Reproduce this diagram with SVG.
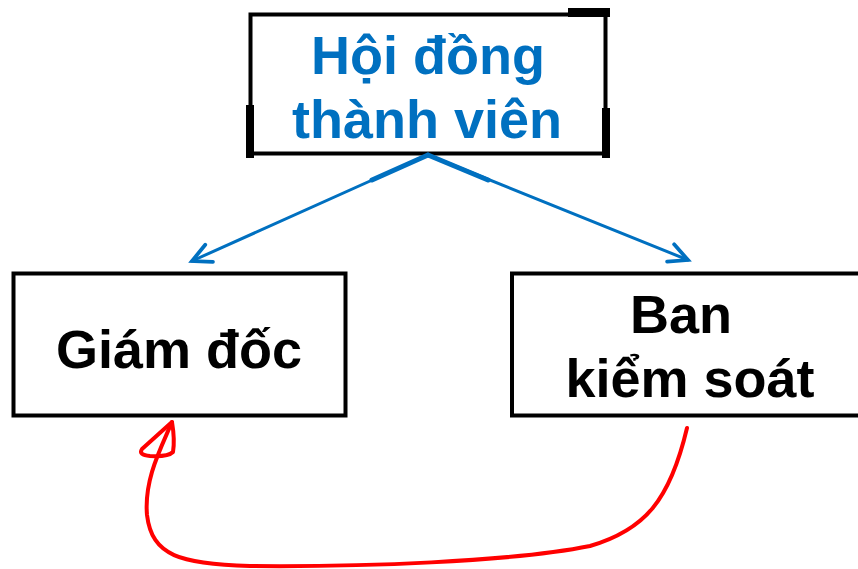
<svg xmlns="http://www.w3.org/2000/svg" width="858" height="569" viewBox="0 0 858 569">
  <style>
    .box { fill: #ffffff; stroke: #000000; stroke-width: 4; }
    .lbl { font-family: "Liberation Sans", Arial, sans-serif; font-weight: bold; font-size: 54px; text-anchor: middle; fill: #000000; }
    .blue { fill: #0070C0; }
    .link { fill: none; stroke: #0070C0; stroke-width: 3; stroke-linecap: round; }
    .link-thick { fill: none; stroke: #0070C0; stroke-width: 5; stroke-linecap: round; }
    .ref { fill: none; stroke: #ff0000; stroke-width: 4; stroke-linecap: round; stroke-linejoin: round; }
  </style>
  <defs>
    <marker id="open-arrow" markerUnits="userSpaceOnUse" markerWidth="30" markerHeight="30" refX="0" refY="0" viewBox="-20 -12 24 24" orient="auto">
      <path d="M-15,-7.5 L0,0 L-15,7.5" fill="none" stroke="#0070C0" stroke-width="3" stroke-linecap="round" stroke-linejoin="miter"/>
    </marker>
  </defs>
  <rect width="858" height="569" fill="#ffffff"/>

  <!-- board of members -->
  <g id="hoi-dong">
    <rect class="box" x="250.5" y="14.5" width="355" height="139" stroke-width="5"/>
    <rect x="568" y="8" width="42" height="9" fill="#000000"/>
    <rect x="246" y="105" width="8" height="53" fill="#000000"/>
    <rect x="602" y="108" width="8" height="50" fill="#000000"/>
    <text class="lbl blue" x="428" y="74">Hội đồng</text>
    <text class="lbl blue" x="427" y="138">thành viên</text>
  </g>

  <!-- director -->
  <g id="giam-doc">
    <rect class="box" x="13.5" y="273.5" width="332" height="142"/>
    <text class="lbl" x="179" y="368">Giám đốc</text>
  </g>

  <!-- supervisory board -->
  <g id="ban-kiem-soat">
    <rect class="box" x="512" y="273.5" width="360" height="142"/>
    <text class="lbl" x="681" y="333">Ban</text>
    <text class="lbl" x="690" y="397">kiểm soát</text>
  </g>

  <g id="connectors">
    <line class="link" x1="428" y1="155" x2="192" y2="261" marker-end="url(#open-arrow)"/>
    <line class="link" x1="428" y1="155" x2="688" y2="260" marker-end="url(#open-arrow)"/>
    <line class="link-thick" x1="428" y1="155" x2="372" y2="180"/>
    <line class="link-thick" x1="428" y1="155" x2="488" y2="180"/>
    <!-- hand-drawn return arrow -->
    <path class="ref" d="M687,428 C670,500 645,530 590,546 C510,562 360,567 250,566 C180,564 152,556 147,515 C144,480 160,450 172,422"/>
    <path class="ref" d="M172,422 L142,449 Q138,455 150,456 Q168,457 173,452 Q175,440 172,422 Z"/>
  </g>
</svg>
